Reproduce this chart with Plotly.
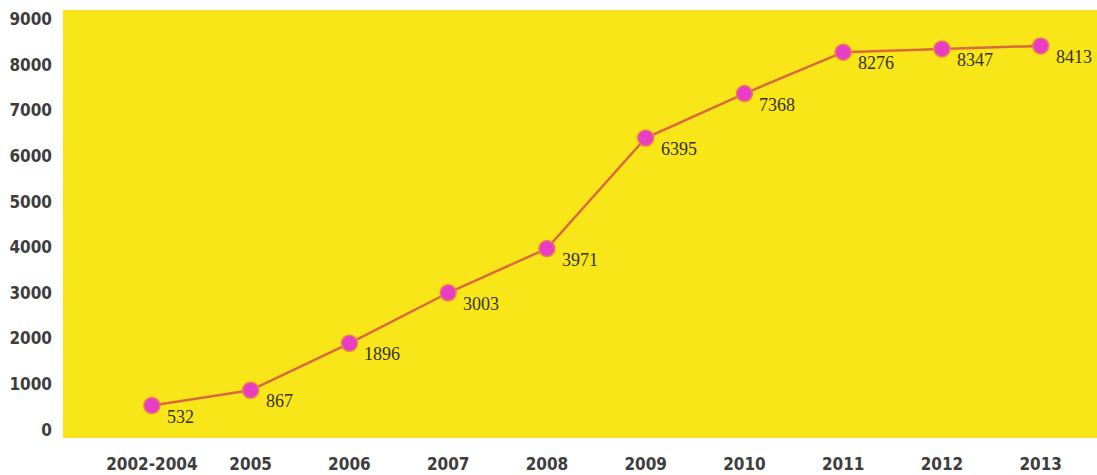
import plotly.graph_objects as go

categories = ["2002-2004", "2005", "2006", "2007", "2008", "2009", "2010", "2011", "2012", "2013"]
values = [532, 867, 1896, 3003, 3971, 6395, 7368, 8276, 8347, 8413]
y_ticks = [0, 1000, 2000, 3000, 4000, 5000, 6000, 7000, 8000, 9000]

tick_font = dict(family="DejaVu Sans Condensed, sans-serif", size=17, color="#3d3d3d", weight="bold")

fig = go.Figure()
fig.add_trace(go.Scatter(
    x=categories, y=values, mode="lines+markers",
    line=dict(color="#d96a3e", width=2.5),
    marker=dict(color="#e83ec6", size=16, line=dict(color="#ef7a5a", width=1.5)),
    hoverinfo="x+y", showlegend=False,
))

for i, v in enumerate(values):
    fig.add_annotation(
        x=i, y=v, text=str(v), showarrow=False,
        xanchor="left", yanchor="middle", xshift=13, yshift=-11,
        font=dict(family="Liberation Serif, DejaVu Serif, serif", size=18, color="#35321e"),
    )

fig.update_layout(
    width=1097, height=475,
    margin=dict(l=63, r=0, t=10, b=37),
    paper_bgcolor="white",
    plot_bgcolor="#f9e619",
    xaxis=dict(
        type="category", range=[-0.9, 9.57],
        showgrid=False, zeroline=False, showline=False,
        tickfont=tick_font, ticks="", ticklabelstandoff=14,
    ),
    yaxis=dict(
        range=[-180, 9200], tickvals=y_ticks,
        showgrid=False, zeroline=False, showline=False,
        tickfont=tick_font, ticks="", ticklabelstandoff=10,
    ),
)

fig.write_html("out.html")
